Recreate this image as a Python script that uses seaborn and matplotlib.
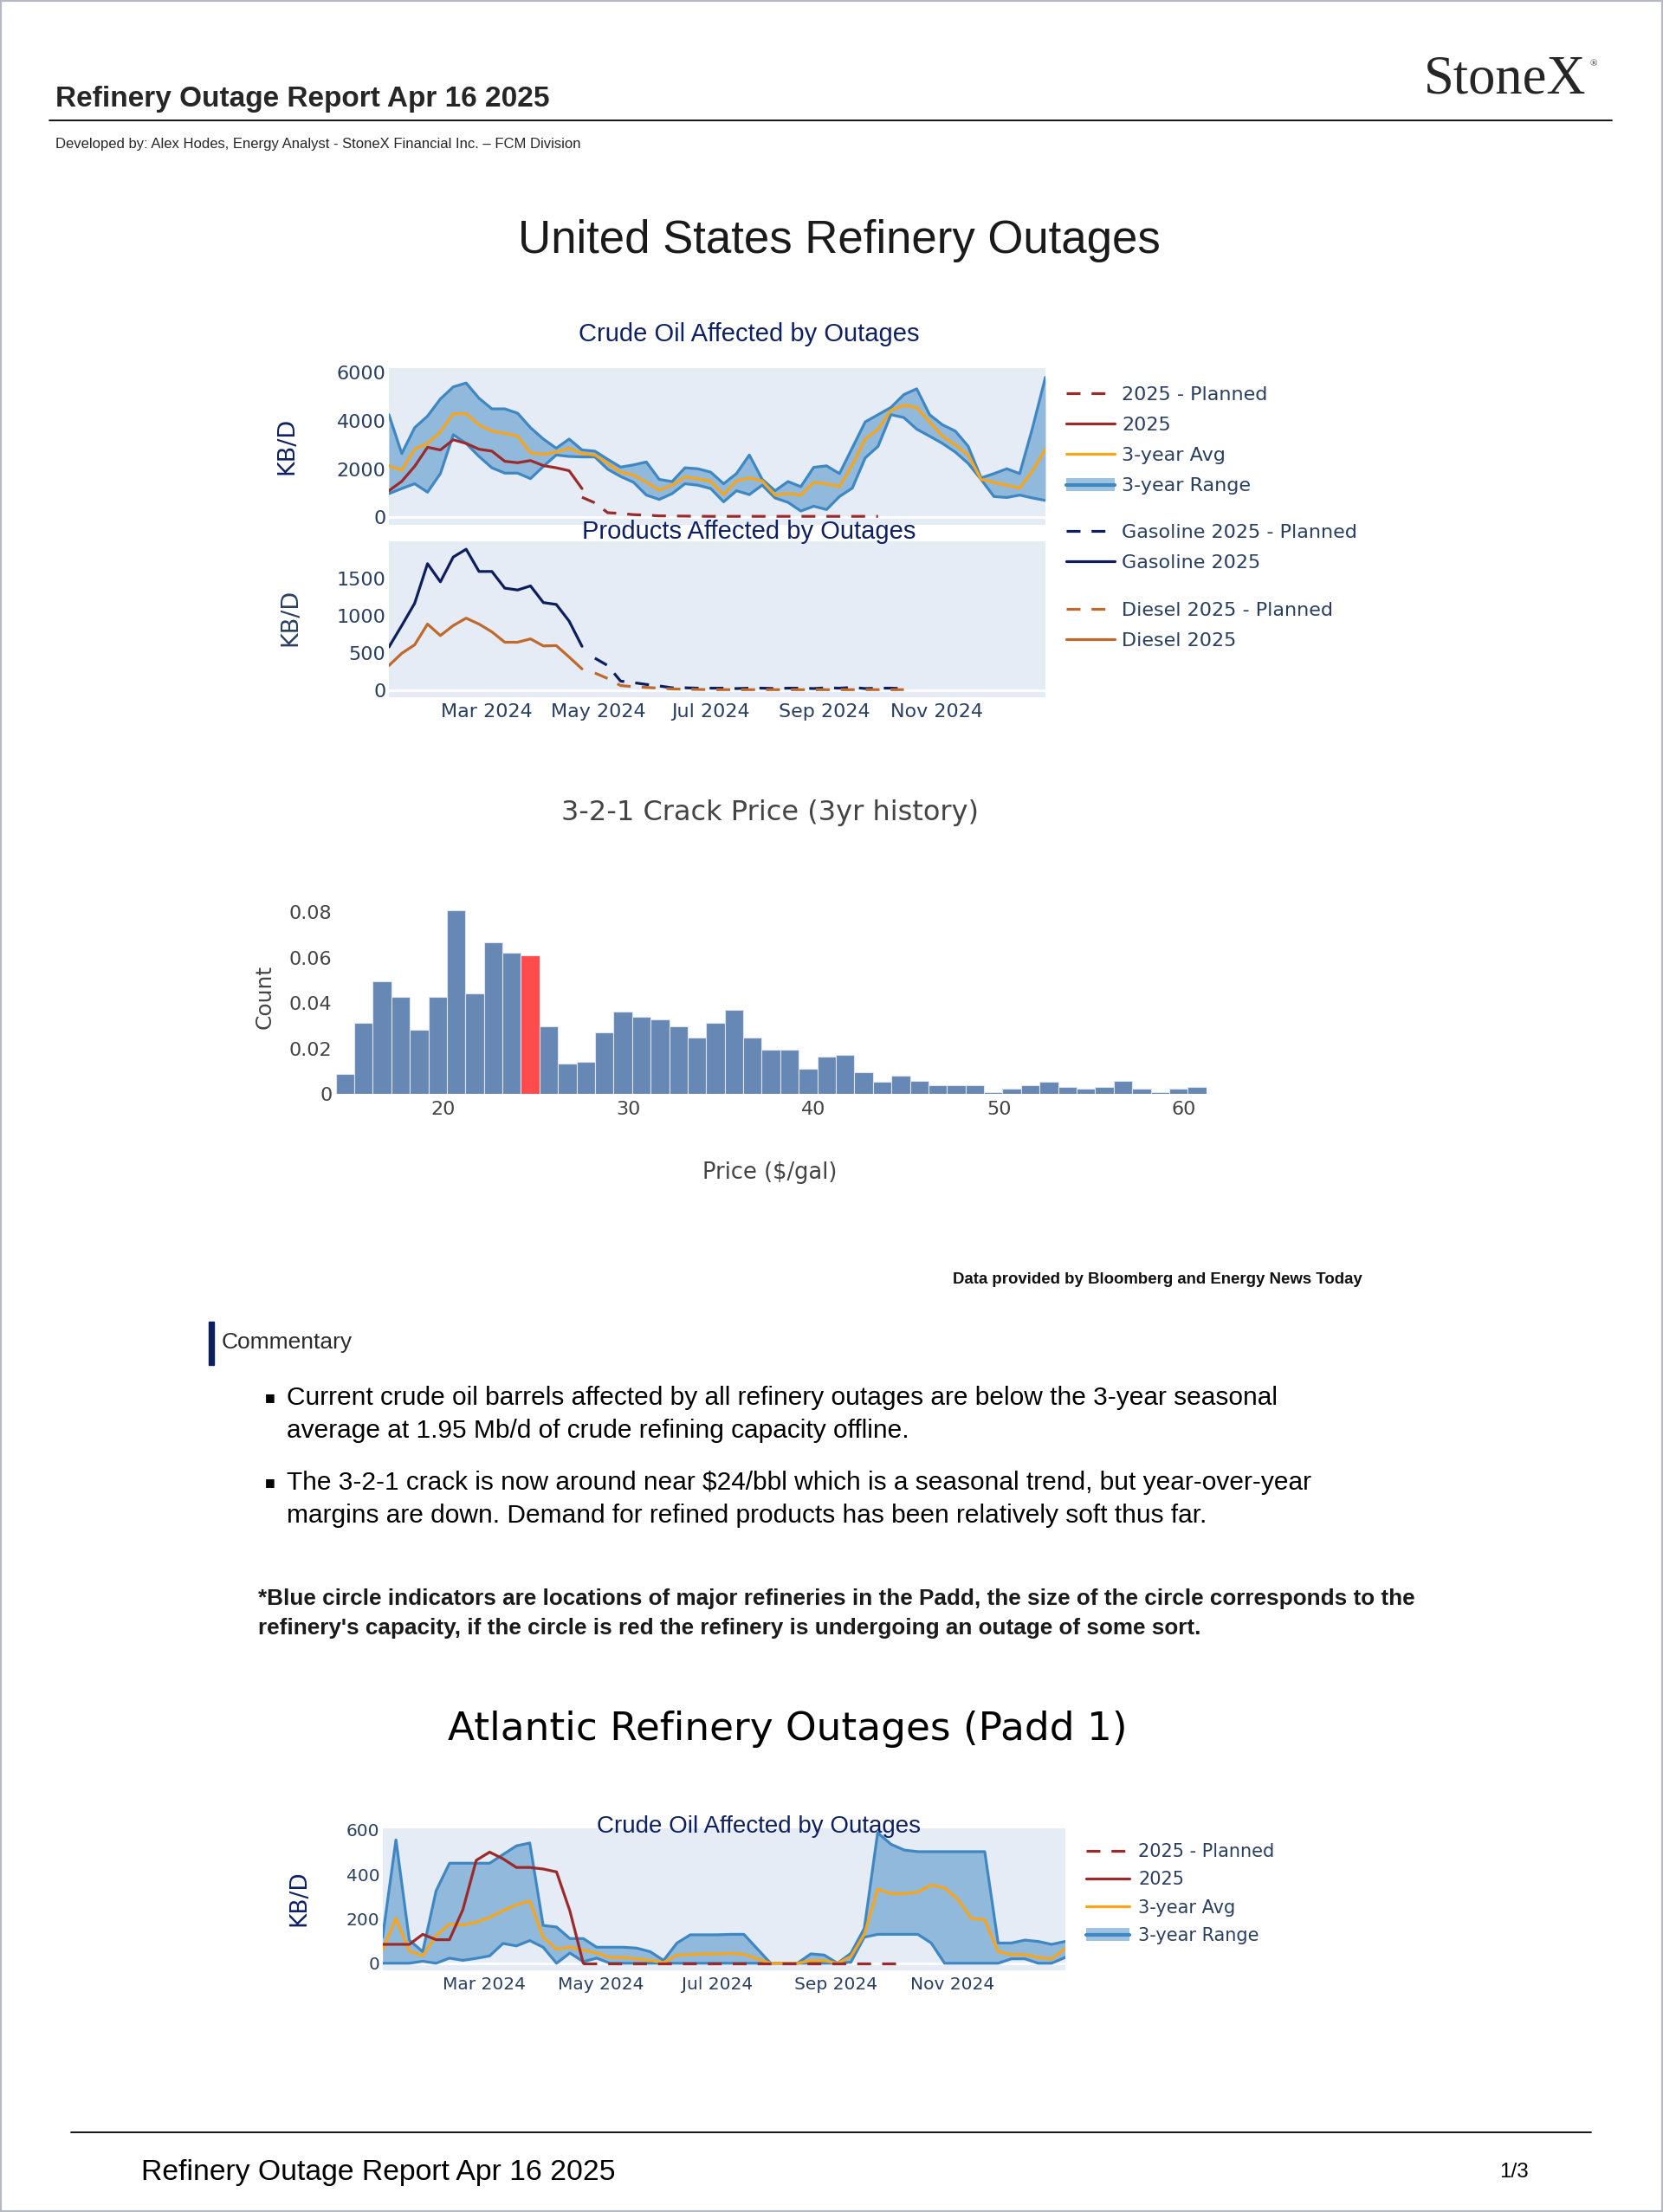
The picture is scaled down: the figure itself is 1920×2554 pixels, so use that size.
import numpy as np
import pandas as pd
import matplotlib
matplotlib.use("Agg")
import matplotlib.pyplot as plt
import matplotlib.dates as mdates
from matplotlib.lines import Line2D
from matplotlib.patches import Patch, Rectangle
from matplotlib.legend_handler import HandlerTuple
import seaborn as sns

sns.set_style("white")
plt.rcParams["font.family"] = ["DejaVu Sans"]

# ---------------- data (KB/D, weekly) ----------------
weeks = pd.date_range("2024-01-08", periods=52, freq="7D")

us_crude_max = [4250, 2640, 3710, 4190, 4900, 5400, 5560, 4930, 4490, 4490,
                4310, 3710, 3240, 2860, 3240, 2790, 2740, 2400, 2080, 2170,
                2290, 1570, 1480, 2050, 2010, 1870, 1390, 1810, 2580, 1570,
                1100, 1480, 1270, 2070, 2130, 1810, 2880, 3950, 4250, 4550,
                5080, 5320, 4250, 3830, 3570, 2940, 1630, 1810, 2010, 1810,
                3710, 5800]
us_crude_min = [980, 1190, 1390, 1040, 1810, 3420, 3060, 2520, 2050, 1830,
                1830, 1600, 2110, 2580, 2520, 2500, 2500, 1990, 1690, 1450,
                920, 740, 980, 1390, 1330, 1190, 640, 1100, 940, 1330,
                800, 620, 260, 460, 320, 860, 1210, 2460, 2940, 4250,
                4130, 3650, 3360, 3060, 2700, 2230, 1570, 860, 820, 920,
                800, 700]
us_crude_avg = [2130, 1950, 2820, 3060, 3540, 4290, 4290, 3830, 3570, 3480,
                3360, 2670, 2610, 2700, 2860, 2640, 2580, 2230, 1870, 1750,
                1450, 1130, 1330, 1670, 1600, 1490, 940, 1510, 1630, 1510,
                920, 980, 920, 1450, 1390, 1270, 2170, 3240, 3650, 4430,
                4640, 4550, 3950, 3360, 3000, 2580, 1570, 1450, 1330, 1210,
                1930, 2820]
us_crude_2025 = [1100, 1490, 2110, 2900, 2790, 3210, 3060, 2820, 2740, 2320,
                 2260, 2350, 2140, 2050, 1930, 1190]            # weeks 0-15
us_crude_planned = [830, 600, 190, 160, 110, 90, 60, 55, 50, 45, 40, 40,
                    40, 40, 40, 40, 40, 40, 40, 40, 40, 40, 40, 40]  # weeks 15-38

gasoline_2025 = [580, 870, 1170, 1705, 1460, 1795, 1900, 1600, 1600, 1375,
                 1350, 1405, 1180, 1155, 930, 590]               # weeks 0-15
gasoline_planned = [430, 330, 120, 100, 75, 55, 30, 30, 25, 25, 25, 20, 25,
                    25, 20, 25, 25, 20, 30, 25, 35, 20, 25, 25, 20]  # weeks 16-40
diesel_2025 = [330, 495, 610, 890, 735, 870, 970, 890, 785, 645,
               645, 690, 595, 600, 445, 285]                     # weeks 0-15
diesel_planned = [230, 155, 60, 45, 35, 25, 15, 10, 8, 5, 5, 5, 5,
                  5, 5, 5, 5, 5, 5, 5, 5, 5, 5, 5, 5]            # weeks 16-40

atl_crude_max = [117, 555, 104, 52, 326, 450, 450, 450, 450, 489,
                 528, 541, 170, 163, 111, 111, 72, 72, 72, 68,
                 52, 13, 91, 128, 128, 128, 130, 130, 65, 0,
                 0, 0, 42, 37, 0, 45, 157, 587, 535, 509,
                 502, 502, 502, 502, 502, 502, 91, 91, 104, 98,
                 85, 98]
atl_crude_min = [0, 0, 0, 9, 0, 23, 13, 22, 33, 89,
                 78, 102, 72, 0, 46, 7, 23, 0, 0, 0,
                 0, 0, 0, 0, 0, 0, 0, 0, 0, 0,
                 0, 0, 0, 0, 0, 5, 117, 130, 130, 130,
                 130, 91, 0, 0, 0, 0, 0, 20, 20, 0,
                 0, 26]
atl_crude_avg = [59, 202, 55, 33, 124, 176, 172, 185, 206, 237,
                 263, 280, 117, 63, 72, 59, 46, 26, 26, 20,
                 13, 3, 37, 39, 42, 42, 45, 40, 20, 0,
                 0, 0, 12, 12, 0, 30, 130, 333, 313, 313,
                 320, 352, 339, 287, 202, 196, 52, 39, 39, 26,
                 20, 65]
atl_crude_2025 = [85, 85, 85, 130, 106, 106, 241, 463, 500, 470,
                  431, 431, 424, 411, 235, 0]                    # weeks 0-15
atl_crude_planned = [0, 0, 0, 0, 0, 0, 0, 0, 0, 0, 0, 0, 0,
                     0, 0, 0, 0, 0, 0, 0, 0, 0, 0, 0, 0]         # weeks 15-39

# 3-2-1 crack price histogram (share of days per $1 bin)
crack_bin_start = 14.2
crack_bin_width = 1.0
crack_share = [0.0086, 0.0313, 0.0497, 0.0427, 0.0282, 0.0427, 0.0808, 0.0442,
               0.0668, 0.0620, 0.0611, 0.0297, 0.0135, 0.0142, 0.0271, 0.0363,
               0.0338, 0.0329, 0.0297, 0.0249, 0.0313, 0.0370, 0.0249, 0.0194,
               0.0194, 0.0110, 0.0165, 0.0171, 0.0095, 0.0053, 0.0080, 0.0057,
               0.0038, 0.0038, 0.0038, 0.0006, 0.0023, 0.0038, 0.0053, 0.0029,
               0.0023, 0.0029, 0.0057, 0.0023, 0.0006, 0.0023, 0.0029]
crack_current_bin = 10

# ---------------- style ----------------
BG = "#e5ecf6"
BAND = "#3f87c3"
RED = "#9b2a2a"
ORANGE = "#f9a51a"
NAVY = "#0c1f5c"
DIESEL = "#c0692b"
TICK = "#2a3f5f"
TITLE = "#0e2061"
HIST = "#6788b4"
HOT = "#ff4b4b"
GREY = "#444444"
SANS = ["Liberation Sans", "DejaVu Sans"]
DASH = (0, (5, 4))
LW = 2.3

W, H = 1920, 2554
fig = plt.figure(figsize=(W / 100, H / 100), dpi=100)


def ax_at(x0, y0, x1, y1):
    return fig.add_axes([x0 / W, 1 - y1 / H, (x1 - x0) / W, (y1 - y0) / H])


def txt(x, y, s, **kw):
    fig.text(x / W, 1 - y / H, s, **kw)


def hline(x0, x1, y, lw=1.3):
    fig.add_artist(Line2D([x0 / W, x1 / W], [1 - y / H, 1 - y / H],
                          color="black", lw=lw, transform=fig.transFigure))


def line(ax, x, y, color, dashed=False, z=3):
    kw = {"linestyle": DASH} if dashed else {}
    sns.lineplot(x=x, y=y, ax=ax, color=color, lw=LW, zorder=z, **kw)


def style_ts(ax, ylim, yticks, size, show_x):
    ax.set_facecolor(BG)
    for sp in ax.spines.values():
        sp.set_visible(False)
    ax.grid(False)
    ax.axhline(0, color="white", lw=2, zorder=1)
    ax.set_xlim(weeks[0], weeks[-1])
    ax.set_ylim(*ylim)
    ax.set_yticks(yticks)
    ax.xaxis.set_major_locator(mdates.MonthLocator(bymonth=[3, 5, 7, 9, 11]))
    ax.xaxis.set_major_formatter(mdates.DateFormatter("%b %Y"))
    ax.tick_params(length=0, labelsize=size, labelcolor=TICK)
    ax.tick_params(axis="y", pad=2.5)
    ax.tick_params(axis="x", pad=5, labelbottom=show_x)
    ax.set_xlabel("")
    ax.set_ylabel("")


def range_chart(ax, lo, hi, avg, act, plan, plan_from):
    ax.fill_between(weeks, lo, hi, color=BAND, alpha=0.5, lw=0, zorder=1.5)
    line(ax, weeks, lo, BAND)
    line(ax, weeks, hi, BAND)
    line(ax, weeks, avg, ORANGE, z=4)
    line(ax, weeks[:len(act)], act, RED, z=5)
    line(ax, weeks[plan_from:plan_from + len(plan)], plan, RED, dashed=True, z=5)


def legend(handles, labels, x, y, size, sp, hl, tp):
    fig.legend(handles, labels, loc="upper left", bbox_to_anchor=(x / W, 1 - y / H),
               frameon=False, fontsize=size, labelspacing=sp, handlelength=hl,
               handletextpad=tp, borderpad=0, borderaxespad=0, labelcolor=TICK,
               handler_map={tuple: HandlerTuple(ndivide=1)})


range_handles = [Line2D([], [], color=RED, lw=LW, linestyle=DASH),
                 Line2D([], [], color=RED, lw=LW),
                 Line2D([], [], color=ORANGE, lw=LW),
                 (Patch(facecolor=BAND, alpha=0.5, lw=0), Line2D([], [], color=BAND, lw=3))]
range_labels = ["2025 - Planned", "2025", "3-year Avg", "3-year Range"]

# ---------------- page header ----------------
fig.add_artist(Rectangle((0, 0), 1, 1, transform=fig.transFigure, fill=False,
                         edgecolor="#b4b9c3", lw=3))
txt(64, 123, "Refinery Outage Report Apr 16 2025", family=SANS, weight="bold",
    fontsize=24, va="baseline")
txt(1644, 107, "StoneX", family=["Liberation Serif"], fontsize=45, va="baseline")
txt(1836, 74, "®", family=["Liberation Serif"], fontsize=8, va="center")
hline(57, 1861, 139)
txt(64, 171, "Developed by: Alex Hodes, Energy Analyst - StoneX Financial Inc. \u2013 FCM Division",
    family=SANS, fontsize=12, va="baseline")
txt(969, 278, "United States Refinery Outages", family=SANS, fontsize=38,
    ha="center", va="center", color="#1a1a1a")

# ---------------- US crude ----------------
ax1 = ax_at(449, 425, 1207, 606)
range_chart(ax1, us_crude_min, us_crude_max, us_crude_avg, us_crude_2025,
            us_crude_planned, 15)
style_ts(ax1, (-312, 6178), [0, 2000, 4000, 6000], 16, False)
txt(865, 386, "Crude Oil Affected by Outages", family=SANS, fontsize=21,
    ha="center", va="center", color=TITLE)
txt(331, 515, "KB/D", fontsize=19.5, rotation=90, ha="center", va="center", color=TITLE)
legend(range_handles, range_labels, 1231, 446, 16, 0.68, 2.5, 0.4)

# ---------------- US products ----------------
ax2 = ax_at(449, 625, 1207, 805)
line(ax2, weeks[:len(gasoline_2025)], gasoline_2025, NAVY)
line(ax2, weeks[16:16 + len(gasoline_planned)], gasoline_planned, NAVY, dashed=True)
line(ax2, weeks[:len(diesel_2025)], diesel_2025, DIESEL)
line(ax2, weeks[16:16 + len(diesel_planned)], diesel_planned, DIESEL, dashed=True, z=4)
style_ts(ax2, (-97, 2007), [0, 500, 1000, 1500], 16, True)
txt(865, 614, "Products Affected by Outages", family=SANS, fontsize=21,
    ha="center", va="center", color=TITLE)
txt(335, 713, "KB/D", fontsize=19.5, rotation=90, ha="center", va="center", color=TICK)
legend([Line2D([], [], color=NAVY, lw=LW, linestyle=DASH), Line2D([], [], color=NAVY, lw=LW)],
       ["Gasoline 2025 - Planned", "Gasoline 2025"], 1231, 605, 16, 0.68, 2.5, 0.4)
legend([Line2D([], [], color=DIESEL, lw=LW, linestyle=DASH), Line2D([], [], color=DIESEL, lw=LW)],
       ["Diesel 2025 - Planned", "Diesel 2025"], 1231, 695, 16, 0.68, 2.5, 0.4)

# ---------------- crack histogram ----------------
edges = crack_bin_start + crack_bin_width * np.arange(len(crack_share) + 1)
centers = edges[:-1] + crack_bin_width / 2
crack = pd.DataFrame({"price": centers, "share": crack_share})
ax3 = ax_at(387.6, 1040, 1392.7, 1263)
sns.histplot(data=crack, x="price", weights="share", bins=list(edges), color=HIST,
             alpha=1, edgecolor="#dde4ee", linewidth=0.8, ax=ax3)
ax3.patches[crack_current_bin].set_facecolor(HOT)
ax3.set_xlim(edges[0], edges[-1])
ax3.set_ylim(0, 0.085)
ax3.set_yticks([0, 0.02, 0.04, 0.06, 0.08])
ax3.set_yticklabels(["0", "0.02", "0.04", "0.06", "0.08"])
ax3.set_xticks([20, 30, 40, 50, 60])
for sp in ax3.spines.values():
    sp.set_visible(False)
ax3.tick_params(length=0, labelsize=16, labelcolor=GREY)
ax3.tick_params(axis="y", pad=3)
ax3.tick_params(axis="x", pad=6)
ax3.set_xlabel("")
ax3.set_ylabel("")
txt(889, 939, "3-2-1 Crack Price (3yr history)", fontsize=23, ha="center",
    va="center", color=GREY)
txt(306, 1151, "Count", fontsize=18, rotation=90, ha="center", va="center", color=GREY)
txt(889, 1354, "Price ($/gal)", fontsize=18.5, ha="center", va="center", color=GREY)

# ---------------- commentary ----------------
txt(1573, 1477, "Data provided by Bloomberg and Energy News Today", family=SANS,
    weight="bold", fontsize=13.4, ha="right", va="center", color="#111111")
fig.add_artist(Rectangle((241 / W, 1 - 1576 / H), 6 / W, 50 / H, color=NAVY,
                         transform=fig.transFigure))
txt(256, 1550, "Commentary", family=SANS, fontsize=19, va="center", color="#2b2b2b")
bullets = [["Current crude oil barrels affected by all refinery outages are below the 3-year seasonal",
            "average at 1.95 Mb/d of crude refining capacity offline."],
           ["The 3-2-1 crack is now around near $24/bbl which is a seasonal trend, but year-over-year",
            "margins are down. Demand for refined products has been relatively soft thus far."]]
for y0, lines in zip([1614, 1712], bullets):
    txt(306, y0, "\u25a0", family=["DejaVu Sans"], fontsize=9, va="center", color="black")
    for k, s in enumerate(lines):
        txt(331, y0 + 38 * k, s, family=SANS, fontsize=21.5, va="center", color="black")
txt(298, 1846, "*Blue circle indicators are locations of major refineries in the Padd, "
    "the size of the circle corresponds to the", family=SANS, weight="bold",
    fontsize=18.8, va="center", color="#1a1a1a")
txt(298, 1880, "refinery's capacity, if the circle is red the refinery is undergoing "
    "an outage of some sort.", family=SANS, weight="bold", fontsize=18.8,
    va="center", color="#1a1a1a")

# ---------------- Atlantic (Padd 1) ----------------
txt(909, 1997, "Atlantic Refinery Outages (Padd 1)", fontsize=32.7, ha="center",
    va="center", color="black")
ax4 = ax_at(441.7, 2111, 1229.6, 2275)
range_chart(ax4, atl_crude_min, atl_crude_max, atl_crude_avg, atl_crude_2025,
            atl_crude_planned, 15)
style_ts(ax4, (-32, 607), [0, 200, 400, 600], 14.5, True)
txt(876, 2109, "Crude Oil Affected by Outages", family=SANS, fontsize=20,
    ha="center", va="center", color=TITLE)
txt(345, 2192, "KB/D", fontsize=19, rotation=90, ha="center", va="center", color=TITLE)
legend(range_handles, range_labels, 1254, 2128, 15, 0.59, 2.4, 0.5)

# ---------------- footer ----------------
hline(82, 1837, 2462)
txt(163, 2508, "Refinery Outage Report Apr 16 2025", family=SANS, fontsize=24.3,
    va="center", color="black")
txt(1731, 2508, "1/3", family=SANS, fontsize=17.5, va="center", color="black")

fig.savefig("out.png", dpi=100)
